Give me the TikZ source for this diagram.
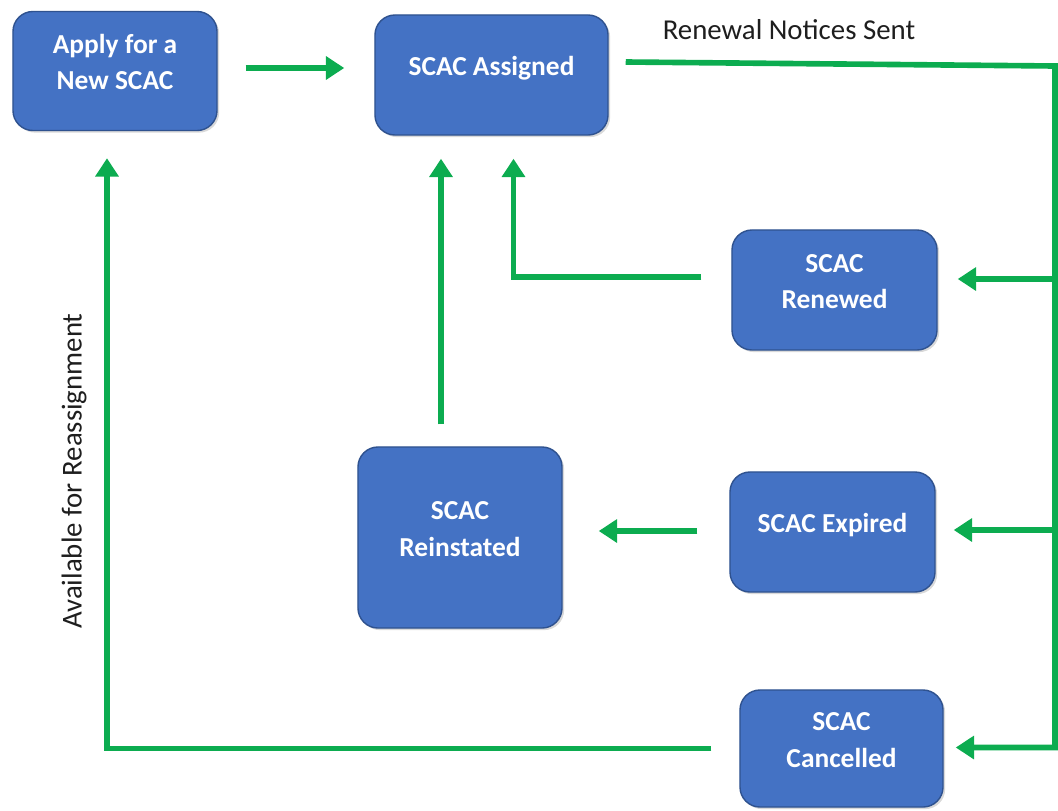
\documentclass[tikz,border=0pt]{standalone}
\usepackage{fontspec}
\setmainfont{Carlito}
\usetikzlibrary{arrows.meta,shadows}
\definecolor{boxblue}{RGB}{68,114,196}
\definecolor{boxedge}{RGB}{47,82,143}
\definecolor{arrgreen}{RGB}{12,172,80}
\definecolor{labgray}{RGB}{30,30,30}
\newcommand{\bt}[1]{\raisebox{5pt}[\height][\depth]{\begin{tabular}{@{}c@{}}#1\end{tabular}}}
\tikzset{
  statebox/.style={draw=boxedge, line width=1pt, fill=boxblue, rounded corners=0.5cm,
    text=white, font=\fontsize{19.5}{26}\selectfont\bfseries, align=center, inner sep=0pt,
    drop shadow={shadow xshift=1.5pt, shadow yshift=-1.5pt, opacity=0.25, fill=black!60}},
  arr/.style={draw=arrgreen, line width=4pt, -{Triangle[width=16pt,length=13pt]}},
  lab/.style={text=labgray, font=\fontsize{20.5}{24}\selectfont, inner sep=0pt}
}
\begin{document}
\begin{tikzpicture}[x=0.025cm, y=-0.025cm]
\useasboundingbox (0,0) rectangle (1058,810);
% nodes
\node[statebox, minimum width=5.1cm, minimum height=2.975cm] (apply) at (115,71) {\bt{Apply for a\\New SCAC}};
\node[statebox, minimum width=5.825cm, minimum height=3.0cm] (assigned) at (491.5,75) {\bt{SCAC Assigned}};
\node[statebox, minimum width=5.125cm, minimum height=3.0cm] (renewed) at (834.5,290) {\bt{SCAC\\Renewed}};
\node[statebox, minimum width=5.1cm, minimum height=4.525cm] (reinstated) at (460,537.5) {\bt{SCAC\\Reinstated}};
\node[statebox, minimum width=5.125cm, minimum height=3.0cm] (expired) at (832.5,532) {\bt{SCAC Expired}};
\node[statebox, minimum width=5.075cm, minimum height=2.925cm] (cancelled) at (841.5,748.5) {\bt{SCAC\\Cancelled}};
% labels
\node[lab] (rns) at (789,30) {Renewal Notices Sent};
\node[lab, rotate=90] (afr) at (74,471) {Available for Reassignment};
% junction coordinates
\coordinate (tr) at (1055,66);
\coordinate (br) at (1055,747.5);
\coordinate (jr) at (1055,279);
\coordinate (je) at (1055,530);
% connectors
\draw[arr] ([shift={(28,-3)}]apply.east) -- ([shift={(-30,-7)}]assigned.west);
\draw[arr] ([shift={(17,-13)}]assigned.east) -- (tr) -- (br) -- ([shift={(12,-1)}]cancelled.east);
\draw[arr] (jr) -- ([shift={(20,-11)}]renewed.east);
\draw[arr] (je) -- ([shift={(18,-2)}]expired.east);
\draw[arr] ([shift={(-30,-13)}]renewed.west) -| ([shift={(22,23)}]assigned.south);
\draw[arr] ([shift={(-19,-22)}]reinstated.north) -- ([shift={(-50.5,23)}]assigned.south);
\draw[arr] ([shift={(-32,-1)}]expired.west) -- ([shift={(36,-6.5)}]reinstated.east);
\draw[arr] ([shift={(-28,0)}]cancelled.west) -| ([shift={(-8,27)}]apply.south);
\end{tikzpicture}
\end{document}
